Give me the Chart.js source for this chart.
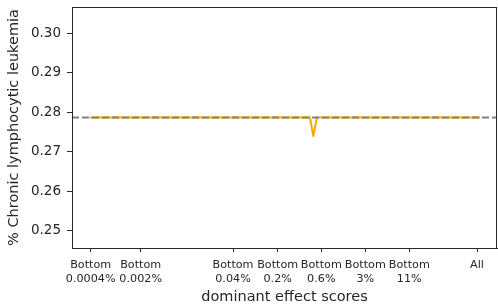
<!DOCTYPE html>
<html>
<head>
<meta charset="utf-8">
<script src="https://cdn.jsdelivr.net/npm/chart.js@4/dist/chart.umd.min.js"></script>
<style>
  html, body { margin: 0; padding: 0; background: #fff; }
  #wrap { width: 498px; height: 307px; }
</style>
</head>
<body>
<div id="wrap"><canvas id="chart" width="498" height="307"></canvas></div>
<script>
// x tick positions (arbitrary units along the axis) and their labels
const tickPos = [0.187, 0.687, 1.61, 2.057, 2.493, 2.933, 3.373, 4.05];
const tickLabels = [
    ['Bottom', '0.0004%'], ['Bottom', '0.002%'], ['Bottom', '0.04%'], ['Bottom', '0.2%'],
    ['Bottom', '0.6%'], ['Bottom', '3%'], ['Bottom', '11%'], ['All']
];
const yTicks = [0.25, 0.26, 0.27, 0.28, 0.29, 0.30];

// orange curve
const curveX = [0.18, 2.38, 2.413, 2.45, 4.08];
const curveY = [0.2787, 0.2787, 0.2740, 0.2787, 0.2787];

// gray dashed reference level
const baseline = 0.2787;

const X_MIN = 0, X_MAX = 4.25;
const Y_MIN = 0.2457, Y_MAX = 0.3066;

const frame = {
    id: 'frame',
    afterDatasetsDraw(chart) {
        const a = chart.chartArea;
        const ctx = chart.ctx;
        ctx.save();
        ctx.strokeStyle = '#262626';
        ctx.lineWidth = 1;
        ctx.strokeRect(a.left + 0.5, a.top + 0.5, a.right - a.left - 1, a.bottom - a.top);
        ctx.restore();
    }
};

new Chart(document.getElementById('chart'), {
    type: 'line',
    data: {
        datasets: [
            {
                data: [{ x: X_MIN, y: baseline }, { x: X_MAX, y: baseline }],
                borderColor: '#808080',
                borderWidth: 2,
                borderDash: [7, 3],
                pointRadius: 0,
                order: 0
            },
            {
                data: curveX.map((x, i) => ({ x: x, y: curveY[i] })),
                borderColor: '#ffa500',
                borderWidth: 2,
                borderJoinStyle: 'round',
                pointRadius: 0,
                tension: 0,
                order: 1
            }
        ]
    },
    plugins: [frame],
    options: {
        responsive: false,
        animation: false,
        layout: { padding: { top: 7, right: 1, left: 0, bottom: 0 } },
        plugins: {
            legend: { display: false },
            tooltip: { enabled: false }
        },
        scales: {
            x: {
                type: 'linear',
                min: X_MIN,
                max: X_MAX,
                afterBuildTicks: (scale) => {
                    scale.ticks = tickPos.map(v => ({ value: v }));
                },
                afterFit: (scale) => {
                    scale.height = 59;
                    scale.paddingLeft = 0;
                    scale.paddingRight = 0;
                },
                ticks: {
                    autoSkip: false,
                    maxRotation: 0,
                    padding: 6,
                    color: '#262626',
                    font: { family: 'DejaVu Sans', size: 11.2, lineHeight: 1.25 },
                    callback: (value, index) => tickLabels[index]
                },
                grid: { drawOnChartArea: false, drawTicks: true, tickLength: 4, color: '#262626' },
                border: { display: true, color: '#262626' },
                title: {
                    display: true,
                    text: 'dominant effect scores',
                    color: '#262626',
                    font: { family: 'DejaVu Sans', size: 14.5 },
                    padding: { top: 0, bottom: 1 }
                }
            },
            y: {
                min: Y_MIN,
                max: Y_MAX,
                afterBuildTicks: (scale) => {
                    scale.ticks = yTicks.map(v => ({ value: v }));
                },
                afterFit: (scale) => {
                    scale.width = 72;
                    scale.paddingTop = 0;
                    scale.paddingBottom = 0;
                },
                ticks: {
                    padding: 6,
                    color: '#262626',
                    font: { family: 'DejaVu Sans', size: 13.5 },
                    callback: (value) => value.toFixed(2)
                },
                grid: { drawOnChartArea: false, drawTicks: true, tickLength: 5, color: '#262626' },
                border: { display: true, color: '#262626' },
                title: {
                    display: true,
                    text: '% Chronic lymphocytic leukemia',
                    color: '#262626',
                    font: { family: 'DejaVu Sans', size: 14.5 },
                    padding: { top: 6, bottom: 0 }
                }
            }
        }
    }
});
</script>
</body>
</html>
